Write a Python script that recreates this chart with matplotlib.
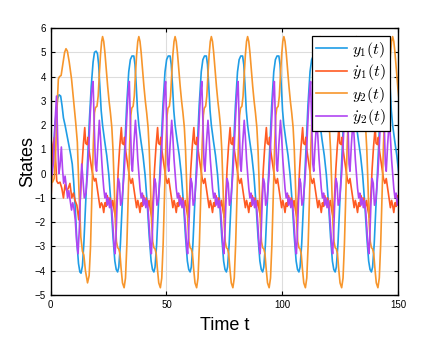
import numpy as np
import matplotlib.pyplot as plt

plt.rcParams['font.family'] = ['Liberation Sans', 'DejaVu Sans']
plt.rcParams['mathtext.fontset'] = 'cm'

# 周期稳定后的参数
period = 15.66
t_start = 22.4   # y2 第二个峰值的位置

# 第一个周期（过渡段），直接从图上读
t_first_y1 = [0, 0.6, 1.2, 1.8, 2.4, 3.0, 3.6, 4.3, 4.9, 5.5, 6.2, 7.0, 7.8, 8.6, 9.3, 9.9,
              10.6, 11.3, 12.0, 12.6, 13.1, 13.7, 14.3, 15.1, 15.9, 16.7, 17.5, 18.3, 18.9,
              19.6, 20.2, 20.7, 21.2, 21.8]
v_first_y1 = [-0.1, 0.2, 1.0, 1.9, 2.6, 3.1, 3.25, 3.2, 2.8, 2.3, 2.0, 1.6, 1.2, 0.8, 0.4, -0.3,
              -1.4, -2.8, -3.7, -4.05, -4.1, -3.8, -2.9, -1.2, 0.6, 2.2, 3.6, 4.6, 5.0,
              5.05, 4.95, 4.5, 3.6, 2.6]

t_first_dy1 = [0, 0.5, 1.0, 1.6, 2.1, 2.6, 3.2, 4.0, 4.8, 5.5, 6.2, 6.9, 7.6, 8.3, 9.1, 9.8,
               10.5, 11.3, 12.1, 12.8, 13.5, 14.1, 14.7, 15.1, 15.7, 16.1, 16.5, 17.1, 17.7,
               18.3, 18.9, 19.5, 20.1, 20.7, 21.3, 21.9]
v_first_dy1 = [-1.3, -0.2, 1.2, 1.5, 0.6, -0.3, -0.4, -0.35, -0.6, -1.0, -0.45, -0.7, -0.6,
               -0.4, -1.0, -0.8, -1.1, -1.3, -1.9, -1.0, 0.3, 1.2, 1.9, 1.25, 1.2, 1.5, 1.0,
               0.6, 0.2, -0.1, -0.3, -0.2, -0.6, -1.0, -1.4, -1.2]

t_first_y2 = [0, 0.8, 1.5, 2.2, 2.8, 3.3, 3.8, 4.5, 5.2, 6.0, 6.6, 7.2, 8.0, 9.0, 10.0, 10.8,
              11.5, 12.2, 13.0, 13.7, 14.3, 15.0, 15.9, 16.6, 17.2, 17.8, 18.4, 18.9, 19.3,
              20.0, 20.5, 21.0, 21.5, 22.0]
v_first_y2 = [-0.3, -0.35, -0.2, 1.0, 2.8, 3.9, 4.0, 4.05, 4.5, 5.0, 5.15, 5.05, 4.6, 3.9, 2.9,
              2.1, 1.3, -0.7, -2.6, -3.2, -3.35, -4.0, -4.5, -4.2, -3.0, -0.8, 1.2, 2.5, 2.72,
              2.78, 3.2, 4.1, 4.9, 5.45]

t_first_dy2 = [0, 0.6, 1.2, 1.8, 2.5, 3.0, 3.5, 4.0, 4.6, 5.1, 5.6, 6.2, 6.8, 7.3, 7.8, 8.4,
               9.0, 9.5, 10.0, 10.6, 11.2, 11.8, 12.4, 12.9, 13.4, 13.9, 14.5, 15.2, 15.9,
               16.5, 17.1, 17.7, 18.3, 18.8, 19.3, 19.8, 20.4, 21.0, 21.5, 22.0]
v_first_dy2 = [0.4, -0.05, 0.5, 2.0, 3.2, 1.5, 0.0, 0.3, 1.1, 0.2, -0.4, -0.1, -0.6, -1.0,
               -0.7, -1.1, -1.5, -1.2, -1.4, -1.9, -2.8, -3.3, -2.2, -0.6, 0.4, -0.2, -1.0,
               -0.8, 0.0, 1.2, 2.5, 3.4, 3.8, 2.0, 0.4, 0.1, 1.2, 2.2, 1.5, 0.6]

# 稳定周期（相位 tau 从 y2 峰值算起）
tau_y1 = [0, 0.9, 1.8, 2.7, 3.6, 4.5, 5.3, 5.9, 6.5, 7.0, 7.7, 8.6, 9.5, 10.4, 11.3, 12.0,
          12.7, 13.5, 14.0, 14.5, 15.1]
v_y1 = [2.0, 1.35, 0.75, -0.05, -1.2, -2.6, -3.6, -3.95, -4.05, -3.85, -2.9, -1.0, 1.0, 2.8,
        4.2, 4.7, 4.85, 4.85, 4.5, 3.7, 2.6]

tau_dy1 = [0, 0.5, 1.0, 1.5, 2.0, 2.6, 3.2, 3.8, 4.4, 5.0, 5.6, 6.2, 6.8, 7.4, 8.1, 8.5, 9.1,
           9.5, 9.9, 10.5, 11.1, 11.7, 12.3, 12.9, 13.5, 14.1, 14.7, 15.2]
v_dy1 = [-1.3, -1.6, -1.2, -1.35, -0.9, -1.2, -1.0, -1.4, -1.1, -1.5, -1.8, -1.0, 0.2, 1.1,
         1.9, 1.25, 1.2, 1.5, 1.0, 0.6, 0.2, -0.2, -0.4, -0.2, -0.6, -1.0, -1.4, -1.1]

tau_y2 = [0, 0.5, 1.0, 1.6, 2.2, 2.8, 3.4, 4.0, 4.5, 5.0, 5.5, 6.0, 6.5, 7.0, 7.5, 8.0, 8.6,
          9.3, 9.9, 10.5, 11.1, 11.7, 12.2, 12.6, 13.2, 13.7, 14.2, 14.7, 15.2]
v_y2 = [5.65, 5.45, 5.0, 4.3, 3.6, 3.0, 2.5, 1.9, 1.0, -0.4, -2.0, -2.8, -3.05, -3.1, -3.3,
        -3.9, -4.5, -4.7, -4.3, -2.9, -0.9, 1.2, 2.4, 2.7, 2.78, 3.2, 4.1, 4.9, 5.45]

tau_dy2 = [0, 0.5, 1.0, 1.5, 2.0, 2.5, 3.0, 3.5, 4.0, 4.5, 5.0, 5.4, 5.8, 6.3, 6.8, 7.3, 7.8,
           8.4, 9.3, 9.8, 10.4, 11.0, 11.55, 12.0, 12.5, 12.9, 13.5, 14.2, 14.7, 15.2]
v_dy2 = [0.0, -0.6, -1.0, -0.8, -1.3, -1.0, -1.4, -1.1, -1.5, -2.2, -3.0, -3.3, -2.6, -1.2,
         -0.2, -0.4, -1.3, -1.1, 0.0, 0.9, 2.2, 3.3, 3.8, 2.2, 0.4, 0.1, 1.2, 2.2, 1.5, 0.6]

labels = [r'$y_1(t)$', r'$\dot{y}_1(t)$', r'$y_2(t)$', r'$\dot{y}_2(t)$']
colors = ['#1f9de6', '#ff5b22', '#f7962c', '#b045f2']


def build(t_first, v_first, tau, v):
    ts = list(t_first)
    vs = list(v_first)
    k = 0
    while t_start + k * period < 155:
        for a, b in zip(tau, v):
            ts.append(t_start + k * period + a)
            vs.append(b)
        k += 1
    return np.array(ts), np.array(vs)


series = [build(t_first_y1, v_first_y1, tau_y1, v_y1),
          build(t_first_dy1, v_first_dy1, tau_dy1, v_dy1),
          build(t_first_y2, v_first_y2, tau_y2, v_y2),
          build(t_first_dy2, v_first_dy2, tau_dy2, v_dy2)]

fig = plt.figure(figsize=(4.24, 3.39), dpi=100)
ax = fig.add_axes([0.1196, 0.1298, 0.8191, 0.7873])

for (t, y), lab, c in zip(series, labels, colors):
    ax.plot(t, y, color=c, lw=1.2, label=lab)

ax.set_xlim(0, 150)
ax.set_ylim(-5, 6)
ax.set_xticks([0, 50, 100, 150])
ax.set_yticks(range(-5, 7))
ax.grid(True, color='#dddddd', lw=0.8)
ax.set_axisbelow(True)
ax.tick_params(direction='in', top=True, right=True, labelsize=7, length=3, width=0.8)
for s in ax.spines.values():
    s.set_linewidth(1.0)

ax.set_xlabel('Time t', fontsize=13, labelpad=5)
ax.set_ylabel('States', fontsize=13, labelpad=-1)

leg = ax.legend(loc='upper right', fontsize=11.5, fancybox=False, framealpha=1,
                edgecolor='black', handlelength=1.9, borderaxespad=0.5,
                labelspacing=0.15, borderpad=0.25, handletextpad=0.35)
leg.get_frame().set_linewidth(0.9)

fig.savefig('out.png', dpi=100)
